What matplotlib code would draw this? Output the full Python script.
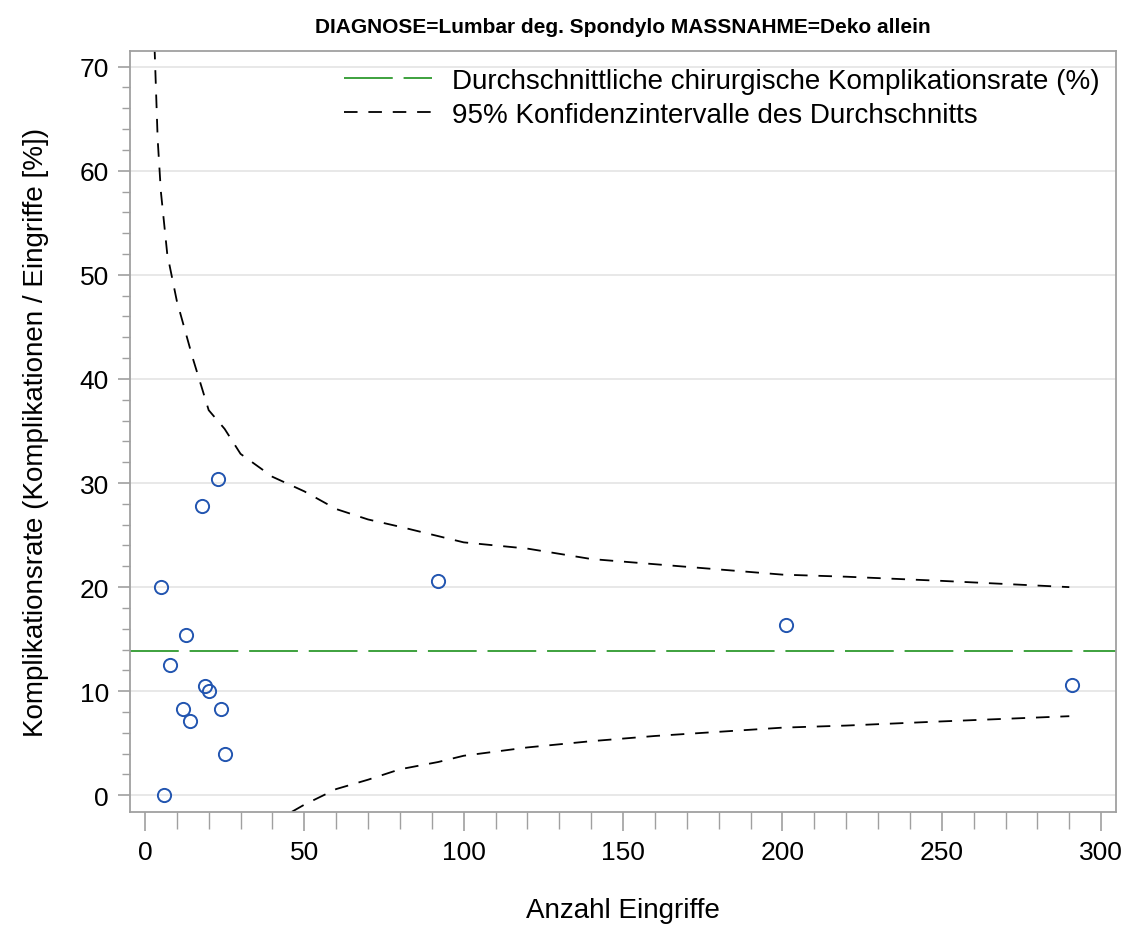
import numpy as np
import matplotlib.pyplot as plt

# Eingriffe je Klinik und Komplikationsrate (%)
n_eingriffe = [5, 6, 8, 12, 13, 14, 18, 19, 20, 23, 24, 25, 92, 201, 291]
rate = [20.0, 0.0, 12.5, 8.3, 15.4, 7.1, 27.8, 10.5, 10.0, 30.4, 8.3, 4.0, 20.6, 16.4, 10.6]

mittel = 13.9

# Konfidenzgrenzen
ki_x = [3, 4, 5, 7, 10, 15, 20, 25, 30, 40, 50, 60, 70, 80, 92, 100, 120, 140,
        160, 180, 200, 220, 250, 290]
ki_oben = [72, 63, 58, 52, 47.5, 42, 37, 35.2, 32.8, 30.6, 29.2, 27.5, 26.5, 25.8,
           24.9, 24.3, 23.7, 22.7, 22.2, 21.7, 21.2, 21.0, 20.6, 20.0]
ki_x_unten = [40, 46, 50, 60, 70, 80, 92, 100, 120, 140, 160, 180, 200, 220, 250, 290]
ki_unten = [-3, -1.6, -0.9, 0.6, 1.5, 2.5, 3.2, 3.8, 4.6, 5.2, 5.7, 6.1, 6.5, 6.7,
            7.1, 7.6]

plt.rcParams['font.family'] = ['Liberation Sans Narrow', 'Liberation Sans', 'DejaVu Sans']

fig = plt.figure(figsize=(11.32, 9.29), dpi=100)
ax = fig.add_axes([0.1148, 0.1249, 0.8712, 0.8191])

grau = '#a0a0a0'
ax.grid(axis='y', color='#e4e4e4', linewidth=1.2, zorder=0)

ax.plot([-4.7, 304.7], [mittel, mittel], color='#2e9a2e', linewidth=1.3,
        dashes=(27, 6), label='Durchschnittliche chirurgische Komplikationsrate (%)', zorder=2)
ax.plot(ki_x, ki_oben, color='black', linewidth=1.3, dashes=(7.5, 6),
        label='95% Konfidenzintervalle des Durchschnitts', zorder=2)
ax.plot(ki_x_unten, ki_unten, color='black', linewidth=1.3, dashes=(7.5, 6), zorder=2)
ax.plot(n_eingriffe, rate, linestyle='none', marker='o', markersize=9.5,
        markerfacecolor='none', markeredgecolor='#2255b0', markeredgewidth=1.4, zorder=3)

ax.set_xlim(-4.7, 304.7)
ax.set_ylim(-1.6, 71.5)
ax.set_xticks(np.arange(0, 301, 50))
ax.set_xticks(np.arange(0, 301, 10), minor=True)
ax.set_yticks(np.arange(0, 71, 10))
ax.set_yticks(np.arange(0, 71, 2), minor=True)

for s in ax.spines.values():
    s.set_color(grau)
    s.set_linewidth(1.3)
ax.tick_params(which='major', length=9, width=1.2, color=grau, labelsize=19, pad=6)
ax.tick_params(which='minor', length=6, width=1.0, color=grau)
ax.tick_params(axis='x', which='major', length=14)
ax.tick_params(axis='x', which='minor', length=12)

ax.set_xlabel('Anzahl Eingriffe', fontsize=20, labelpad=24)
ax.set_ylabel('Komplikationsrate (Komplikationen / Eingriffe [%])', fontsize=20, labelpad=22)
ax.set_title('DIAGNOSE=Lumbar deg. Spondylo MASSNAHME=Deko allein',
             fontsize=15, fontweight='bold', pad=14)

ax.legend(loc='upper right', frameon=False, fontsize=20, handlelength=3.2,
          borderaxespad=0.2, labelspacing=0.3, handletextpad=0.7)

fig.savefig('out.png', dpi=100)
